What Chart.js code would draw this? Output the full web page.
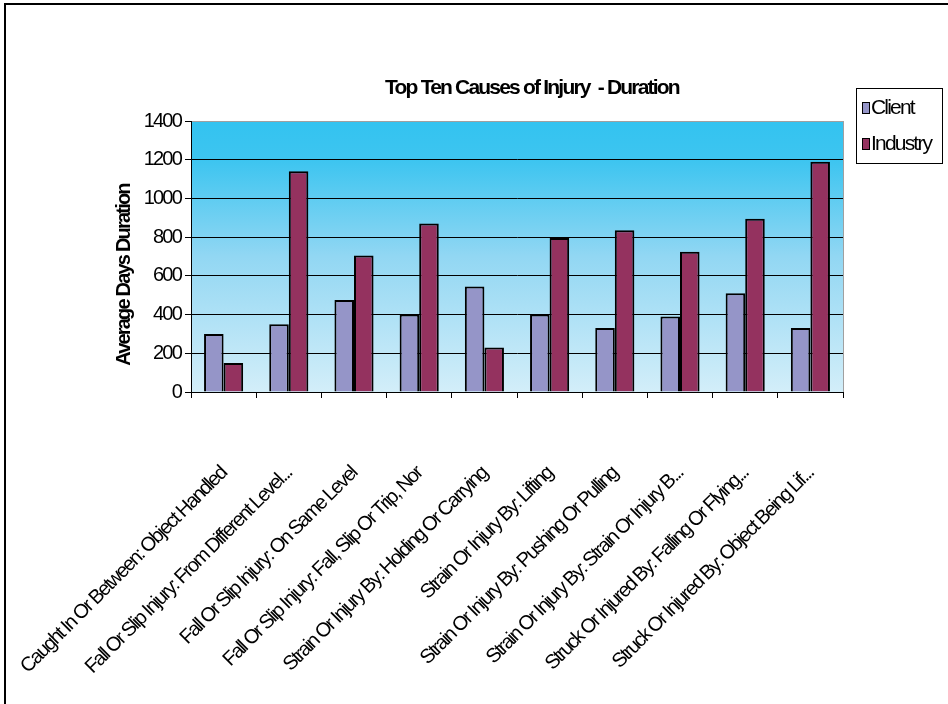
<!DOCTYPE html>
<html>
<head>
<meta charset="utf-8">
<script src="https://cdn.jsdelivr.net/npm/chart.js@4.4.0/dist/chart.umd.min.js"></script>
<style>
  html, body { margin: 0; padding: 0; background: #fff; }
  #wrap { position: relative; width: 948px; height: 704px; }
</style>
</head>
<body>
<div id="wrap"><canvas id="chart" width="948" height="704"></canvas></div>
<script>
const categories = [
  "Caught In Or Between: Object Handled",
  "Fall Or Slip Injury: From Different Level...",
  "Fall Or Slip Injury: On Same Level",
  "Fall Or Slip Injury: Fall, Slip Or Trip, Nor",
  "Strain Or Injury By: Holding Or Carrying",
  "Strain Or Injury By: Lifting",
  "Strain Or Injury By: Pushing Or Pulling",
  "Strain Or Injury By: Strain Or Injury B...",
  "Struck Or Injured By: Falling Or Flying...",
  "Struck Or Injured By: Object Being Lif..."
];
const clientValues = [300, 350, 475, 400, 545, 400, 330, 390, 510, 330];
const industryValues = [150, 1140, 705, 870, 230, 795, 835, 725, 895, 1190];
const yTicks = [0, 200, 400, 600, 800, 1000, 1200, 1400];
const seriesNames = ["Client", "Industry"];
const chartTitle = "Top Ten Causes of Injury  - Duration";
const yAxisTitle = "Average Days Duration";

const FONT = "'Liberation Sans Narrow', 'Arial Narrow', 'Liberation Sans', Arial, sans-serif";
// the original text is squeezed tight, no narrow face installed so tighten spacing
const TIGHT = "-1.8px";

// background gradient, frame, title, legend and y title drawn like the Excel original
const excelFrame = {
  id: "excelFrame",
  beforeDraw(chart) {
    const { ctx, chartArea: a } = chart;
    ctx.letterSpacing = TIGHT;
    ctx.save();
    const g = ctx.createLinearGradient(0, a.top, 0, a.bottom);
    g.addColorStop(0, "#33c3f0");
    g.addColorStop(0.15, "#3ec5f0");
    g.addColorStop(0.5, "#92d7f3");
    g.addColorStop(1, "#d3eef9");
    ctx.fillStyle = g;
    ctx.fillRect(a.left, a.top, a.right - a.left, a.bottom - a.top);
    ctx.restore();
  },
  afterDraw(chart) {
    const { ctx, chartArea: a } = chart;
    ctx.save();
    ctx.letterSpacing = TIGHT;
    // plot area right edge
    ctx.strokeStyle = "#a0a0a0";
    ctx.lineWidth = 1;
    ctx.beginPath();
    ctx.moveTo(Math.round(a.right) + 0.5, a.top);
    ctx.lineTo(Math.round(a.right) + 0.5, a.bottom);
    ctx.stroke();

    // outer frame (only top/left visible)
    ctx.strokeStyle = "#000";
    ctx.lineWidth = 2;
    ctx.strokeRect(5, 4, 1000, 800);

    // title
    ctx.fillStyle = "#000";
    ctx.font = "bold 21px " + FONT;
    ctx.textAlign = "center";
    ctx.textBaseline = "alphabetic";
    ctx.fillText(chartTitle, 532, 94);

    // y axis title
    ctx.save();
    ctx.translate(130, 275);
    ctx.rotate(-Math.PI / 2);
    ctx.font = "bold 20px " + FONT;
    ctx.fillText(yAxisTitle, 0, 0);
    ctx.restore();

    // legend
    ctx.lineWidth = 1;
    ctx.strokeStyle = "#000";
    ctx.strokeRect(856.5, 88.5, 86, 75);
    ctx.font = "21px " + FONT;
    ctx.textAlign = "left";
    chart.data.datasets.forEach((ds, i) => {
      const base = 114 + i * 36;
      ctx.fillStyle = ds.backgroundColor;
      ctx.fillRect(862, base - 11, 7, 11);
      ctx.strokeRect(862.5, base - 11.5, 7, 11);
      ctx.fillStyle = "#000";
      ctx.fillText(ds.label, 871, base);
    });
    ctx.restore();
  }
};

new Chart(document.getElementById("chart"), {
  type: "bar",
  data: {
    labels: categories,
    datasets: [
      {
        label: seriesNames[0],
        data: clientValues,
        backgroundColor: "#9595c8",
        borderColor: "#000",
        borderWidth: 2,
        categoryPercentage: 0.6,
        barPercentage: 1.0,
      },
      {
        label: seriesNames[1],
        data: industryValues,
        backgroundColor: "#94325f",
        borderColor: "#000",
        borderWidth: 2,
        categoryPercentage: 0.6,
        barPercentage: 1.0,
      },
    ],
  },
  options: {
    responsive: false,
    animation: false,
    devicePixelRatio: 1,
    layout: { padding: { left: 110, right: 105, top: 121, bottom: 0 } },
    plugins: {
      legend: { display: false },
      title: { display: false },
      tooltip: { enabled: false },
    },
    scales: {
      x: {
        grid: { drawOnChartArea: false, tickLength: 6, color: "#000", offset: true },
        border: { color: "#000" },
        ticks: {
          autoSkip: false,
          maxRotation: 45,
          minRotation: 45,
          padding: 64,
          color: "#000",
          font: { family: FONT, size: 20 },
        },
        afterFit(s) {
          s.height = 312;
          s.paddingLeft = 0;
          s.paddingRight = 0;
        },
      },
      y: {
        min: 0,
        max: 1400,
        afterBuildTicks(s) { s.ticks = yTicks.map((v) => ({ value: v })); },
        ticks: {
          padding: 4,
          color: "#000",
          font: { family: FONT, size: 20 },
          callback: (v) => String(v),
        },
        grid: {
          color: (c) => (c.tick && c.tick.value === 1400 ? "#a0a0a0" : "#000"),
          tickColor: "#000",
          tickLength: 6,
        },
        border: { color: "#000" },
        afterFit(s) { s.width = 81; },
      },
    },
  },
  plugins: [excelFrame],
});
</script>
</body>
</html>
